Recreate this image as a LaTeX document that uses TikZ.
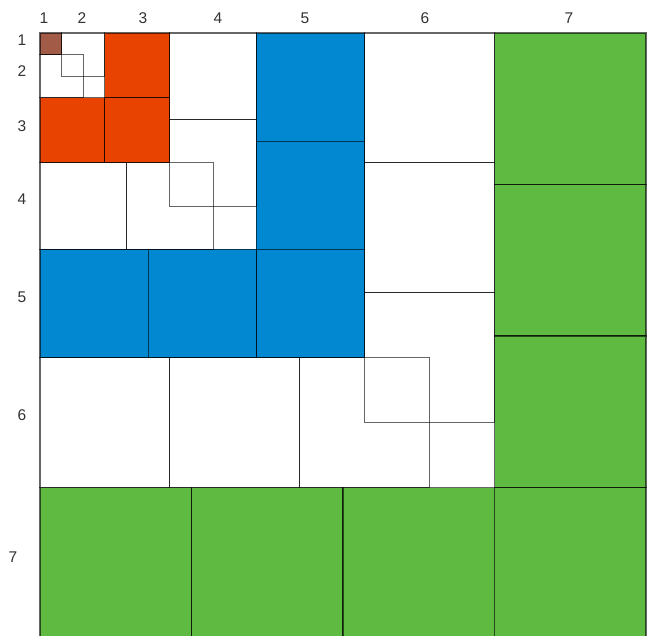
\documentclass[tikz,border=0pt]{standalone}
\usepackage{fontspec}
\setmainfont{Liberation Sans}
\definecolor{cbrown}{HTML}{A25B47}
\definecolor{cred}{HTML}{E84300}
\definecolor{cblue}{HTML}{0288D1}
\definecolor{cgreen}{HTML}{5EBA40}
\definecolor{ctext}{HTML}{333333}
\begin{document}
\begin{tikzpicture}[x=1pt,y=-1pt,
  sqline/.style={draw=black, draw opacity=0.6, line width=1.1pt},
  lbl/.style={text=ctext, font=\fontsize{15.5}{17}\selectfont, inner sep=0pt}]
\useasboundingbox (0,0) rectangle (647,635);
\def\u{21.643}
\newcommand\mysq[4]{\path[sqline,fill=#4] ({40+#1*\u},{33+#2*\u}) rectangle ++({#3*\u},{#3*\u});}
\newcommand\mysqw[3]{\path[sqline] ({40+#1*\u},{33+#2*\u}) rectangle ++({#3*\u},{#3*\u});}
% size 7 green
\foreach \a/\b in {21/0,21/7,21/14,21/21,0/21,7/21,14/21}{\mysq{\a}{\b}{7}{cgreen}}
% size 5 blue
\foreach \a/\b in {10/0,10/5,10/10,0/10,5/10}{\mysq{\a}{\b}{5}{cblue}}
% size 3 red
\foreach \a/\b in {3/0,0/3,3/3}{\mysq{\a}{\b}{3}{cred}}
% size 1 brown
\mysq{0}{0}{1}{cbrown}
% white squares
\foreach \a/\b in {1/0,0/1}{\mysqw{\a}{\b}{2}}
\foreach \a/\b in {6/0,6/4,0/6,4/6}{\mysqw{\a}{\b}{4}}
\foreach \a/\b in {15/0,15/6,15/12,0/15,6/15,12/15}{\mysqw{\a}{\b}{6}}
% column labels
\node[lbl] (c1) at (44,18) {1};
\node[lbl] (c2) at (82,18) {2};
\node[lbl] (c3) at (143,18) {3};
\node[lbl] (c4) at (218,18) {4};
\node[lbl] (c5) at (305,18) {5};
\node[lbl] (c6) at (425,18) {6};
\node[lbl] (c7) at (569,18) {7};
% row labels
\node[lbl] (r1) at (22,40) {1};
\node[lbl] (r2) at (22,71) {2};
\node[lbl] (r3) at (22,126) {3};
\node[lbl] (r4) at (22,199) {4};
\node[lbl] (r5) at (22,297) {5};
\node[lbl] (r6) at (22,415) {6};
\node[lbl] (r7) at (13,557) {7};
\end{tikzpicture}
\end{document}
